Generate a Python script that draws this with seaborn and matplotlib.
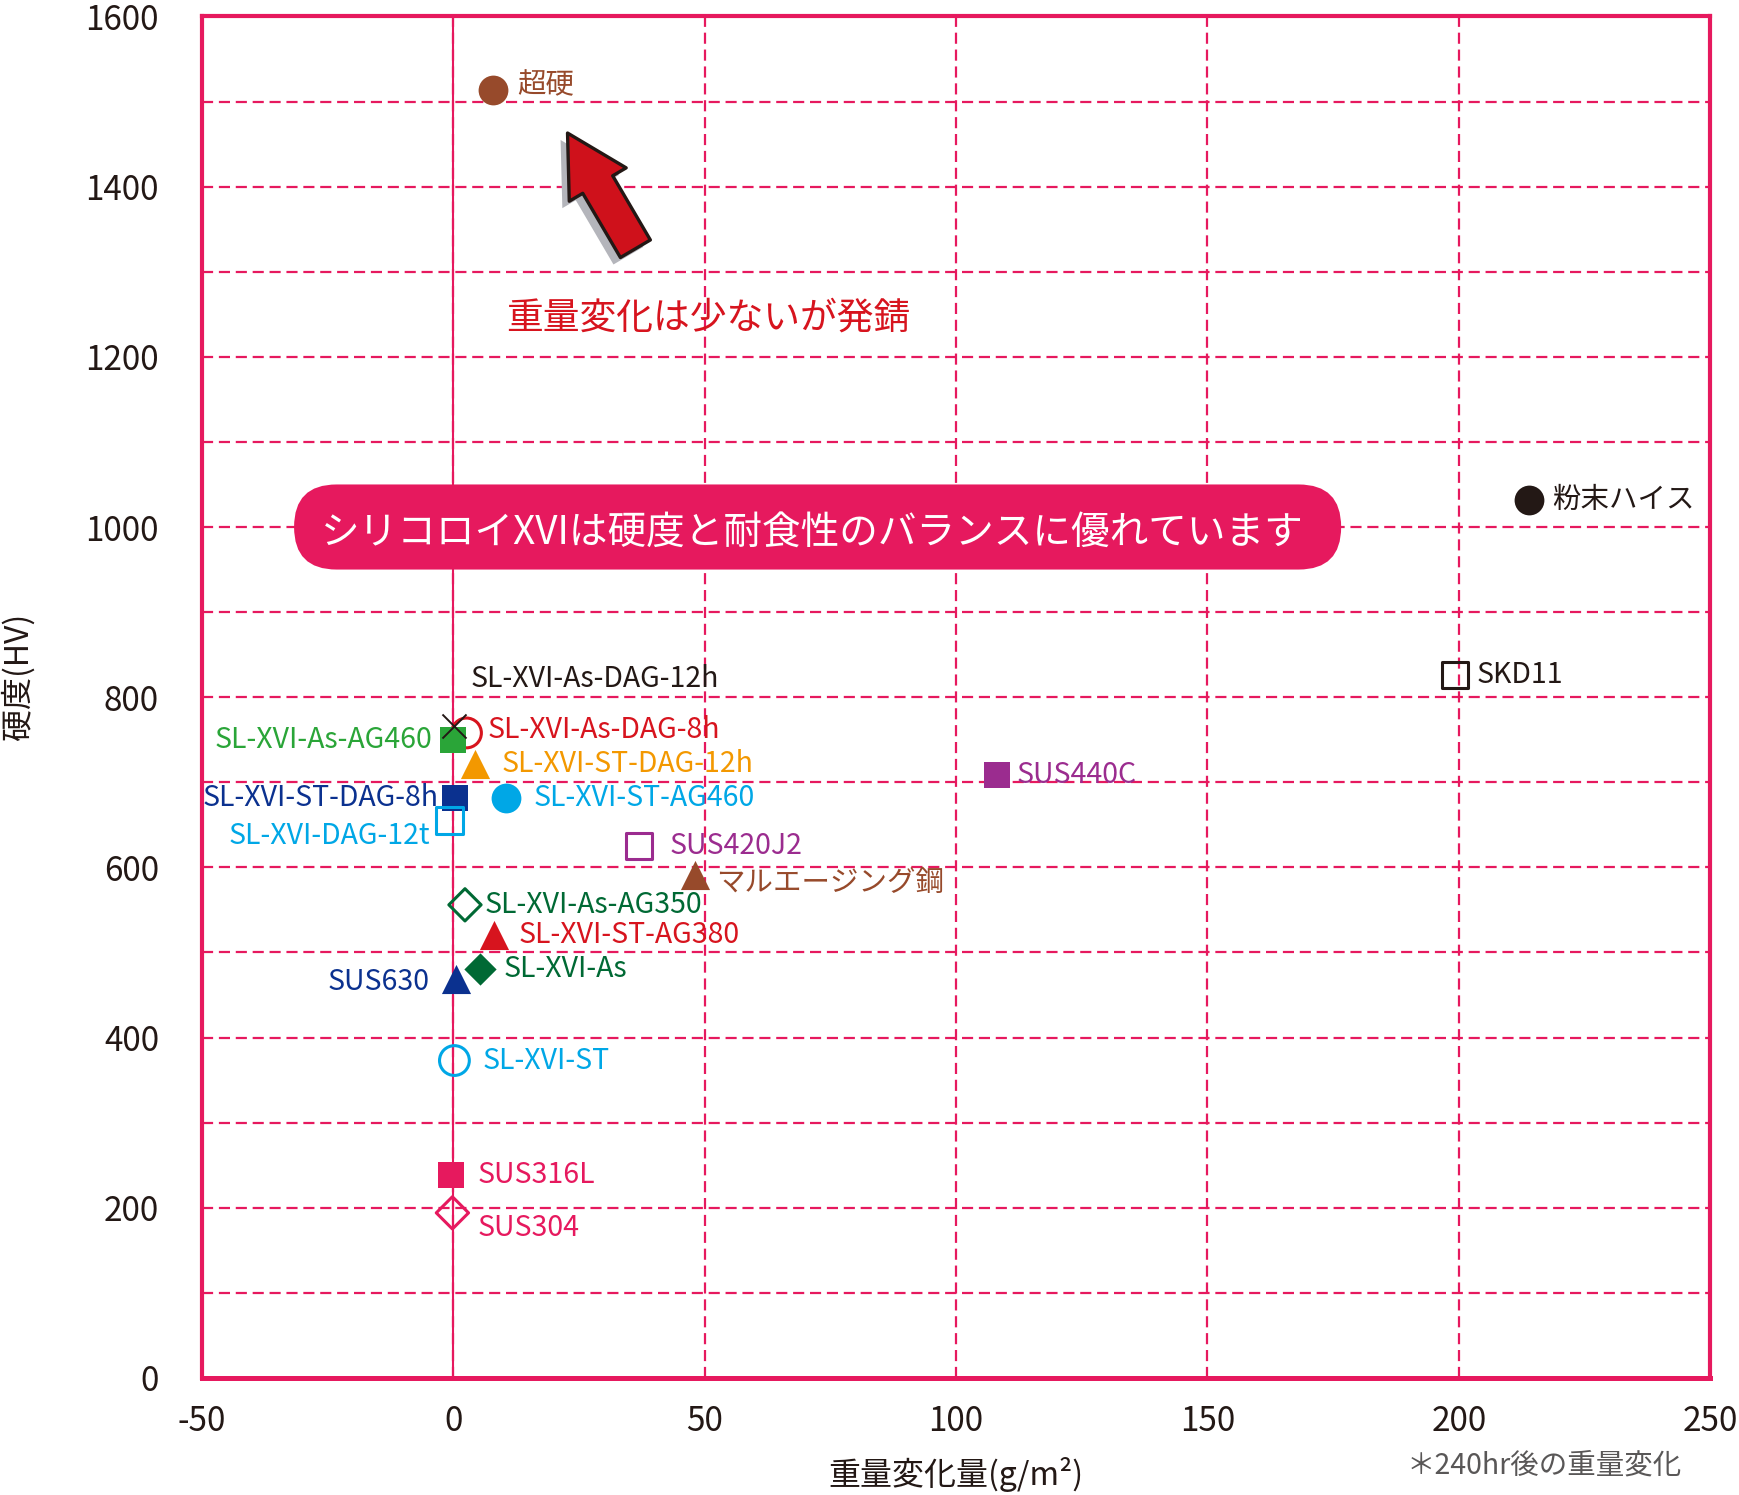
"""
Hardness vs. weight change scatter for SL-XVI grades and reference steels.
"""

import numpy as np
import pandas as pd
import seaborn as sns
import matplotlib.pyplot as plt
import matplotlib.patheffects as pe
from matplotlib.patches import FancyBboxPatch
from matplotlib.ticker import MultipleLocator

# data
materials = [
    "超硬", "粉末ハイス", "SKD11", "SUS440C", "SUS420J2", "マルエージング鋼",
    "SL-XVI-As-DAG-8h", "SL-XVI-As-AG460",
    "SL-XVI-ST-DAG-12h", "SL-XVI-ST-DAG-8h", "SL-XVI-ST-AG460",
    "SL-XVI-DAG-12t", "SL-XVI-As-AG350", "SL-XVI-ST-AG380", "SL-XVI-As",
    "SUS630", "SL-XVI-ST", "SUS316L", "SUS304", "SL-XVI-As-DAG-12h",
]
weight_change = [
    7.9, 213.9, 199.2, 108.2, 36.9, 48.1,
    2.6, 0.0,
    4.3, 0.4, 10.4,
    -0.8, 2.3, 8.0, 5.2,
    0.6, 0.2, -0.5, -0.2, 0.1,
]
hardness = [
    1513, 1032, 826, 709, 625, 591,
    758, 750,
    722, 681, 681,
    655, 556, 521, 481,
    469, 373, 239, 194, 766,
]
x_ticks = [-50, 0, 50, 100, 150, 200, 250]
y_ticks = [0, 200, 400, 600, 800, 1000, 1200, 1400, 1600]

PINK = "#e6195e"
RED = "#d7141e"
INK = "#231815"
BROWN = "#974a2b"
PURPLE = "#9b2c8f"
GREEN = "#2aa538"
DKGREEN = "#006934"
ORANGE = "#f39800"
NAVY = "#0b318f"
CYAN = "#00a7e6"

# marker, colour, hollow
marker_style = {
    "超硬": ("o", BROWN, False),
    "粉末ハイス": ("o", INK, False),
    "SKD11": ("s", INK, True),
    "SUS440C": ("s", PURPLE, False),
    "SUS420J2": ("s", PURPLE, True),
    "マルエージング鋼": ("^", BROWN, False),
    "SL-XVI-As-DAG-12h": ("x", INK, False),
    "SL-XVI-As-DAG-8h": ("o", RED, True),
    "SL-XVI-As-AG460": ("s", GREEN, False),
    "SL-XVI-ST-DAG-12h": ("^", ORANGE, False),
    "SL-XVI-ST-DAG-8h": ("s", NAVY, False),
    "SL-XVI-ST-AG460": ("o", CYAN, False),
    "SL-XVI-DAG-12t": ("s", CYAN, True),
    "SL-XVI-As-AG350": ("D", DKGREEN, True),
    "SL-XVI-ST-AG380": ("^", RED, False),
    "SL-XVI-As": ("D", DKGREEN, False),
    "SUS630": ("^", NAVY, False),
    "SL-XVI-ST": ("o", CYAN, True),
    "SUS316L": ("s", PINK, False),
    "SUS304": ("D", PINK, True),
}
marker_size = {"o": 460, "s": 360, "^": 440, "D": 270, "x": 300}

# label offset in points and alignment
label_pos = {
    "超硬": (17, 4, "left"),
    "粉末ハイス": (17, 0, "left"),
    "SKD11": (16, 0, "left"),
    "SUS440C": (14, 0, "left"),
    "SUS420J2": (22, 0, "left"),
    "マルエージング鋼": (15, -6, "left"),
    "SL-XVI-As-DAG-12h": (12, 34, "left"),
    "SL-XVI-As-DAG-8h": (15, 2, "left"),
    "SL-XVI-As-AG460": (-15, 0, "right"),
    "SL-XVI-ST-DAG-12h": (19, 0, "left"),
    "SL-XVI-ST-DAG-8h": (-12, 0, "right"),
    "SL-XVI-ST-AG460": (20, 0, "left"),
    "SL-XVI-DAG-12t": (-14, -11, "right"),
    "SL-XVI-As-AG350": (14, 0, "left"),
    "SL-XVI-ST-AG380": (18, 0, "left"),
    "SL-XVI-As": (17, 0, "left"),
    "SUS630": (-19, -2, "right"),
    "SL-XVI-ST": (20, 0, "left"),
    "SUS316L": (19, 0, "left"),
    "SUS304": (18, -11, "left"),
}


def plot_hardness_vs_weight(out_path="out.png"):
    df = pd.DataFrame({"material": materials, "dw": weight_change, "hv": hardness})

    sns.set_theme(style="white")
    plt.rcParams["font.family"] = ["Noto Sans CJK JP", "DejaVu Sans"]
    plt.rcParams["axes.unicode_minus"] = False

    fig = plt.figure(figsize=(17.39, 14.95), dpi=100)
    ax = fig.add_axes([0.1162, 0.0783, 0.8672, 0.9107])

    for _, row in df.iterrows():
        marker, color, hollow = marker_style[row["material"]]
        lw = 1.4 if marker == "x" else 0
        sns.scatterplot(x=[row["dw"]], y=[row["hv"]], marker=marker,
                        s=marker_size[marker], color=color, edgecolor=color,
                        linewidth=lw, ax=ax, zorder=6)
        if hollow:
            pts = ax.collections[-1]
            pts.set_facecolor("none")
            pts.set_edgecolor(color)
            pts.set_linewidth(2.2)
        dx, dy, ha = label_pos[row["material"]]
        ax.annotate(row["material"], (row["dw"], row["hv"]), xytext=(dx, dy),
                    textcoords="offset points", ha=ha, va="center",
                    fontsize=20.5, color=color, zorder=7)

    ax.set_xlim(x_ticks[0], x_ticks[-1])
    ax.set_ylim(y_ticks[0], y_ticks[-1])
    ax.set_xticks(x_ticks)
    ax.set_yticks(y_ticks)
    ax.yaxis.set_minor_locator(MultipleLocator(100))
    ax.tick_params(which="both", length=0, labelsize=24, labelcolor=INK)
    ax.tick_params(axis="x", pad=19)
    ax.tick_params(axis="y", pad=31)

    dash = (0, (5, 2.6))
    ax.grid(axis="y", which="both", color=PINK, linestyle=dash, linewidth=1.6)
    ax.grid(axis="x", which="major", color=PINK, linestyle=dash, linewidth=1.6)
    ax.axvline(0, color=PINK, linewidth=1.5, zorder=2)
    ax.set_axisbelow(True)

    for side, spine in ax.spines.items():
        spine.set_color(PINK)
        spine.set_linewidth(3.6 if side == "bottom" else 3.0)

    ax.set_xlabel("重量変化量(g/m²)", fontsize=23, color=INK, va="center")
    ax.set_ylabel("硬度(HV)", fontsize=23, color=INK, va="center")
    ax.xaxis.set_label_coords(0.5, -0.071)
    ax.yaxis.set_label_coords(-0.122, 0.515)
    fig.text(0.888, 0.0196, "＊240hr後の重量変化", fontsize=20.5, color="#595757",
             ha="center", va="center")

    # pink message box
    box = FancyBboxPatch((-31.7, 950), 208.3, 100,
                         boxstyle="round,pad=0,rounding_size=8.45",
                         mutation_aspect=5.915, facecolor=PINK, edgecolor="none",
                         zorder=4)
    ax.add_patch(box)
    ax.text(71.4, 993, "シリコロイXVIは硬度と耐食性のバランスに優れています",
            fontsize=27.8, color="white", ha="center", va="center", zorder=5)

    # red arrow towards the top
    ann = ax.annotate("", xy=(22.7, 1463), xytext=(36.2, 1327),
                      arrowprops=dict(arrowstyle="simple,head_length=1.72,head_width=1.9,tail_width=1",
                                      mutation_scale=25, facecolor="#cf111b",
                                      edgecolor=INK, linewidth=2.4,
                                      shrinkA=0, shrinkB=0, joinstyle="round"),
                      zorder=5)
    ann.arrow_patch.set_path_effects([
        pe.SimplePatchShadow(offset=(-5, -5), shadow_rgbFace="#b4b5bb", alpha=1.0),
        pe.Normal(),
    ])
    ax.text(50.6, 1245, "重量変化は少ないが発錆", fontsize=26.5, color=RED,
            ha="center", va="center", zorder=5)

    fig.savefig(out_path, dpi=100)
    plt.close(fig)


if __name__ == "__main__":
    plot_hardness_vs_weight()
